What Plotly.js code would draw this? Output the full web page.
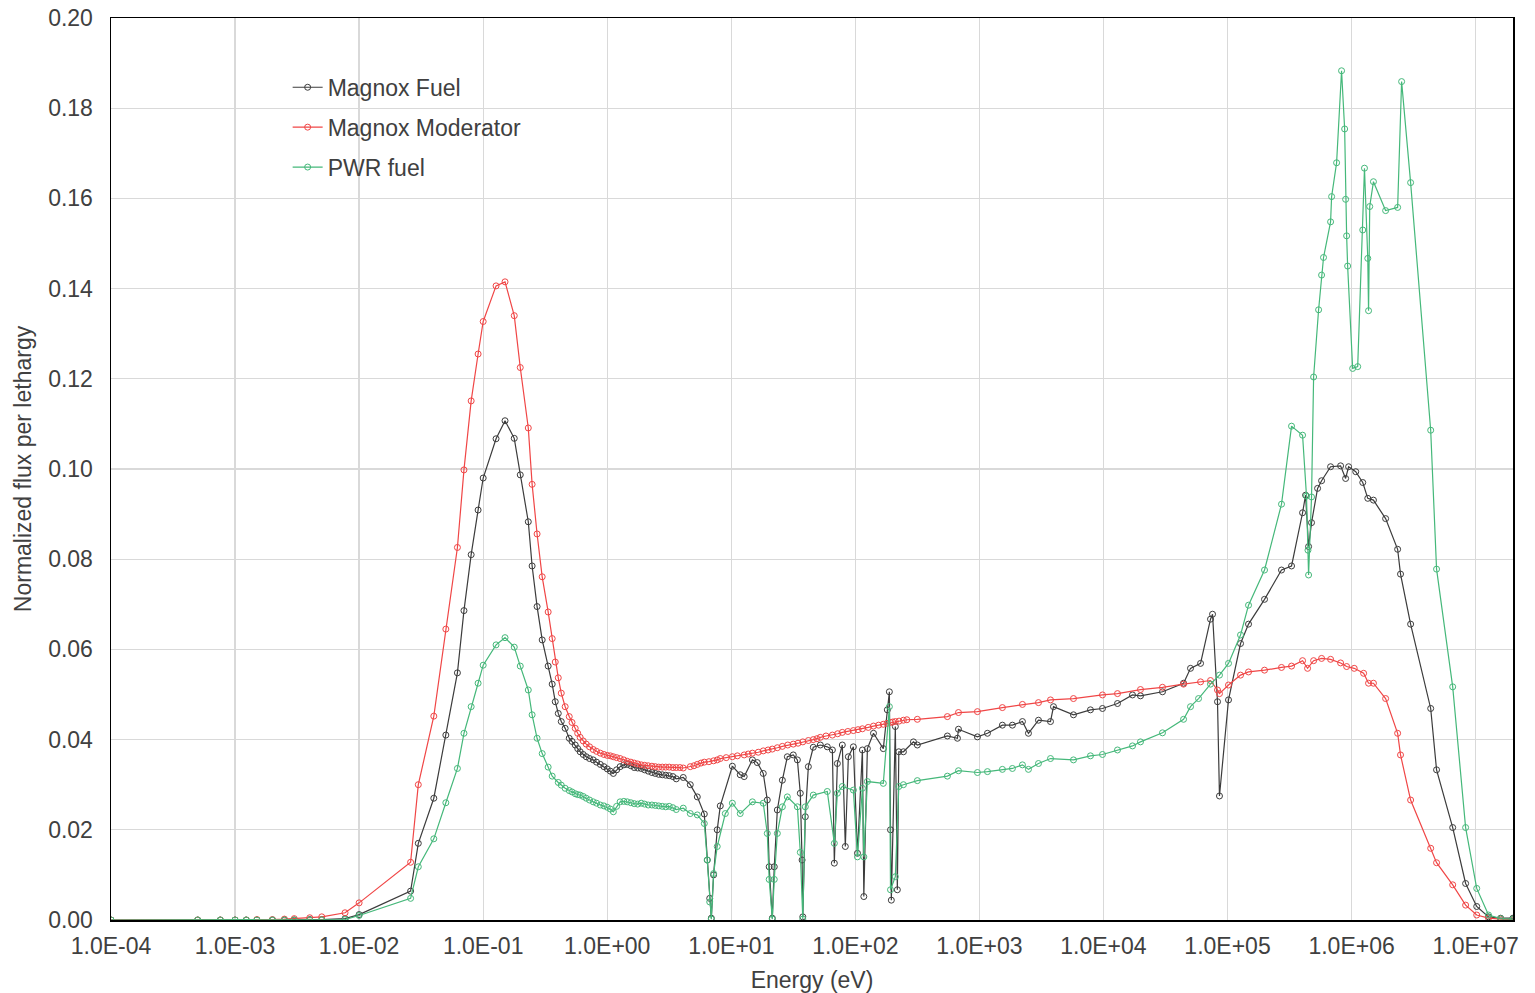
<!DOCTYPE html>
<html>
<head>
<meta charset="utf-8">
<script src="https://cdn.plot.ly/plotly-3.0.1.min.js"></script>
<style>
  body { margin: 0; background: #fff; }
  #plot { width: 1535px; height: 993px; }
</style>
</head>
<body>
<div id="plot"></div>
<script>
// energies (eV) and normalized flux per lethargy
var fuelE = [1e-4, 5.0e-4, 7.6e-4, 1.0e-3, 1.23e-3, 1.5e-3, 2.0e-3, 2.5e-3, 3.0e-3, 4.0e-3, 5.0e-3, 7.7e-3, 1.0e-2,
  2.6e-2, 3.0e-2, 4.0e-2, 5.0e-2, 6.2e-2, 7.0e-2, 8.0e-2, 9.1e-2, 0.1, 0.127, 0.15, 0.178, 0.199, 0.231, 0.248, 0.272,
  0.299, 0.334, 0.36, 0.381, 0.403, 0.426, 0.458, 0.494, 0.52, 0.552, 0.578, 0.605, 0.64, 0.677, 0.72, 0.771, 0.82,
  0.879, 0.94, 1.0, 1.06, 1.12, 1.19, 1.27, 1.36, 1.45, 1.55, 1.65, 1.76, 1.88, 2.0, 2.14, 2.29, 2.44, 2.6, 2.78,
  2.96, 3.16, 3.38, 3.6, 4.1, 4.67, 5.32, 6.06, 6.4, 6.7, 6.9, 7.2, 7.7, 8.15, 10.2, 11.8, 12.7,
  14.8, 16.2, 18.1, 19.5, 20.2, 21.4, 22.2, 23.5, 25.8, 28.3, 31.6, 34.1, 36, 37.2, 37.7, 39.5, 41.8, 45.8, 52.2,
  59.4, 65.3, 67.7, 71.6, 78.5, 83, 87.8, 96.4, 104, 114, 117, 125, 140, 168, 181, 188, 192, 195, 210, 218, 224,
  244, 294, 316, 552, 665, 678, 964, 1161, 1532, 1845, 2222, 2484, 2992, 3740, 3954, 5730, 7850, 9820, 12970,
  17140, 19870, 29900, 44200, 50300, 60600, 72900, 75700, 83000, 86100, 101800, 127300, 147600, 198700, 272300,
  328000, 402500, 425700, 450000, 475400, 531900, 573000, 677000, 815000, 895000, 946000, 1.08e6, 1.23e6,
  1.35e6, 1.5e6, 1.88e6, 2.35e6, 2.48e6, 2.99e6, 4.34e6, 4.84e6, 6.53e6, 8.3e6, 1.02e7, 1.27e7, 1.59e7, 2.0e7];
var fuelF = [0, 0, 0, 0, 0, 0, 0, 0, 0, 0.0001, 0.0001, 0.0003, 0.0012,
  0.0064, 0.017, 0.027, 0.041, 0.0548, 0.0686, 0.081, 0.0909, 0.098, 0.1067, 0.1107, 0.1068, 0.0987, 0.0883, 0.0785, 0.0695,
  0.0621, 0.0563, 0.0523, 0.0484, 0.0458, 0.044, 0.0425, 0.0403, 0.0396, 0.0388, 0.038, 0.0373, 0.0367, 0.0362, 0.0358, 0.0355, 0.035,
  0.0345, 0.034, 0.0335, 0.033, 0.0325, 0.0333, 0.034, 0.0344, 0.0345, 0.0342, 0.0338, 0.0337, 0.0336, 0.0333, 0.033, 0.0327, 0.0325, 0.0323, 0.0322,
  0.0321, 0.032, 0.0318, 0.0313, 0.0316, 0.03, 0.0273, 0.0235, 0.0133, 0.0048, 0.0004, 0.01, 0.02, 0.0253, 0.0341, 0.0322, 0.0318,
  0.0355, 0.0349, 0.0325, 0.0266, 0.0118, 0.0004, 0.0118, 0.0244, 0.031, 0.0362, 0.0366, 0.0355, 0.0281, 0.0133, 0.0007, 0.0229, 0.034, 0.0383, 0.0388,
  0.0384, 0.0377, 0.0126, 0.0347, 0.0388, 0.0163, 0.0362, 0.0384, 0.0148, 0.0377, 0.0052, 0.038, 0.0414, 0.038, 0.0466, 0.0506, 0.02, 0.0044, 0.0429, 0.0067, 0.0373,
  0.0373, 0.0395, 0.0388, 0.0408, 0.0403, 0.0423, 0.0406, 0.0414, 0.0432, 0.0432, 0.044, 0.0414, 0.0443, 0.044, 0.0473, 0.0455, 0.0466, 0.0469, 0.048,
  0.0499, 0.0497, 0.0506, 0.0525, 0.0558, 0.0569, 0.0667, 0.0678, 0.0484, 0.0275, 0.0488, 0.0613, 0.0656, 0.0711, 0.0776,
  0.0785, 0.0903, 0.0942, 0.0828, 0.0881, 0.0957, 0.0974, 0.1005, 0.1007, 0.0979, 0.1005, 0.0994, 0.097,
  0.0935, 0.0931, 0.089, 0.0822, 0.0767, 0.0656, 0.0469, 0.0333, 0.0205, 0.0081, 0.003, 0.0007, 0.0004, 0.0004];

var modE = [1e-4, 5.0e-4, 7.6e-4, 1.0e-3, 1.23e-3, 1.5e-3, 2.0e-3, 2.5e-3, 3.0e-3, 4.0e-3, 5.0e-3, 7.7e-3, 1.0e-2,
  2.6e-2, 3.0e-2, 4.0e-2, 5.0e-2, 6.2e-2, 7.0e-2, 8.0e-2, 9.1e-2, 0.1, 0.127, 0.15, 0.178, 0.199, 0.231, 0.248, 0.272,
  0.299, 0.334, 0.36, 0.381, 0.403, 0.426, 0.458, 0.494, 0.52, 0.552, 0.578, 0.605, 0.64, 0.677, 0.72, 0.771, 0.82,
  0.879, 0.94, 1.0, 1.06, 1.12, 1.19, 1.27, 1.36, 1.45, 1.55, 1.65, 1.76, 1.88, 2.0, 2.14, 2.29, 2.44, 2.6, 2.78,
  2.96, 3.16, 3.38, 3.6, 3.85, 4.1, 4.67, 5.0, 5.32, 5.7, 6.06, 6.6, 7.2, 7.7, 8.15, 9.1, 10.2, 11.2, 12.7, 13.7,
  14.8, 16.5, 18.1, 19.8, 21.4, 23.5, 25.8, 28.5, 31.6, 34.5, 37.7, 41.8, 45.8, 49, 52.2, 58, 65.3, 72, 78.5, 87,
  96.4, 105, 114, 127, 140, 154, 168, 180, 192, 200, 210, 225, 244, 260, 316, 552, 678, 964, 1532, 2222, 2992,
  3740, 5730, 9820, 12970, 19870, 29900, 44200, 60600, 72900, 83000, 86100, 101800, 127300, 147600, 198700,
  272300, 328000, 402500, 441700, 494100, 573000, 677000, 815000, 912000, 1.05e6, 1.25e6, 1.37e6, 1.5e6, 1.88e6,
  2.35e6, 2.48e6, 2.99e6, 4.34e6, 4.84e6, 6.53e6, 8.3e6, 1.02e7, 1.27e7, 1.59e7, 2.0e7];
var modF = [0, 0, 0, 0, 0, 0.0001, 0.0001, 0.0002, 0.0003, 0.0005, 0.0007, 0.0016, 0.0038,
  0.0128, 0.03, 0.0452, 0.0645, 0.0826, 0.0998, 0.1151, 0.1255, 0.1327, 0.1406, 0.1415, 0.134, 0.1225, 0.1091, 0.0966, 0.0856,
  0.0761, 0.0683, 0.0624, 0.0572, 0.0537, 0.0503, 0.0473, 0.0451, 0.0438, 0.0425, 0.0414, 0.0405, 0.0397, 0.039, 0.0384, 0.0378, 0.0374,
  0.037, 0.0367, 0.0365, 0.0364, 0.0362, 0.036, 0.0358, 0.0355, 0.0352, 0.035, 0.0348, 0.0346, 0.0344, 0.0343, 0.0342, 0.0341, 0.034, 0.0339, 0.0339,
  0.0339, 0.0339, 0.0338, 0.0338, 0.0338, 0.0337, 0.034, 0.0342, 0.0345, 0.0348, 0.035, 0.0351, 0.0353, 0.0355, 0.0358, 0.036, 0.0362, 0.0364, 0.0366, 0.0368,
  0.037, 0.0372, 0.0375, 0.0377, 0.0379, 0.0382, 0.0385, 0.0388, 0.039, 0.0392, 0.0395, 0.0398, 0.04, 0.0402, 0.0405, 0.0408, 0.041, 0.0413, 0.0416, 0.0418,
  0.042, 0.0422, 0.0424, 0.0427, 0.043, 0.0432, 0.0434, 0.0436, 0.0438, 0.0439, 0.044, 0.0441, 0.0443, 0.0444, 0.0445, 0.0451, 0.046, 0.0462, 0.0471, 0.0478, 0.0482,
  0.0488, 0.0491, 0.0499, 0.0502, 0.0511, 0.0516, 0.0523, 0.0528, 0.0531, 0.051, 0.0502, 0.0521, 0.0543, 0.055, 0.0554,
  0.056, 0.0563, 0.0575, 0.0558, 0.0575, 0.058, 0.0578, 0.057, 0.0562, 0.0558, 0.0547, 0.0525, 0.0525, 0.0491,
  0.0414, 0.0366, 0.0266, 0.0159, 0.0127, 0.0078, 0.0033, 0.0011, 0.0004, 0.0002, 0.0001];

var pwrE = [1e-4, 5.0e-4, 7.6e-4, 1.0e-3, 1.23e-3, 1.5e-3, 2.0e-3, 2.5e-3, 3.0e-3, 4.0e-3, 5.0e-3, 7.7e-3, 1.0e-2,
  2.6e-2, 3.0e-2, 4.0e-2, 5.0e-2, 6.2e-2, 7.0e-2, 8.0e-2, 9.1e-2, 0.1, 0.127, 0.15, 0.178, 0.199, 0.231, 0.248, 0.272,
  0.299, 0.334, 0.36, 0.403, 0.426, 0.458, 0.494, 0.52, 0.552, 0.578, 0.605, 0.64, 0.677, 0.72, 0.771, 0.82, 0.879,
  0.94, 1.0, 1.06, 1.12, 1.19, 1.27, 1.36, 1.45, 1.55, 1.65, 1.76, 1.88, 2.0, 2.14, 2.29, 2.44, 2.6, 2.78, 2.96,
  3.16, 3.38, 3.6, 4.1, 4.67, 5.32, 6.06, 6.4, 6.7, 6.9, 7.2, 7.7, 8.95, 10.2, 11.8, 14.8, 18.1, 19.5, 20.2,
  21.4, 22.2, 23.5, 25.8, 28.3, 34.1, 36, 37.7, 39.5, 45.8, 59.4, 67.7, 71.6, 78.5, 96.4, 104, 114, 117, 125, 168,
  188, 192, 210, 224, 244, 316, 552, 678, 964, 1161, 1532, 1845, 2222, 2484, 2992, 3740, 5730, 7850, 9820, 12970,
  17140, 19870, 29900, 44200, 50300, 58400, 72900, 86100, 101800, 127300, 147600, 198700, 272300, 328000, 402500,
  433000, 445000, 450000, 475400, 494100, 542000, 573000, 594000, 677000, 690000, 757000, 830000, 879000, 895000,
  912000, 929000, 1.02e6, 1.12e6, 1.23e6, 1.27e6, 1.35e6, 1.37e6, 1.4e6, 1.5e6, 1.88e6, 2.35e6, 2.53e6, 2.99e6,
  4.34e6, 4.84e6, 6.53e6, 8.3e6, 1.02e7, 1.27e7, 1.59e7, 2.0e7];
var pwrF = [0, 0, 0, 0, 0, 0, 0, 0, 0, 0, 0, 0.0001, 0.001,
  0.0048, 0.0118, 0.018, 0.026, 0.0336, 0.0414, 0.0473, 0.0525, 0.0565, 0.061, 0.0626, 0.0605, 0.0563, 0.051, 0.0455, 0.0403,
  0.0369, 0.0339, 0.0319, 0.0305, 0.0299, 0.0292, 0.0287, 0.0284, 0.028, 0.0278, 0.0277, 0.0274, 0.027, 0.0266, 0.0262, 0.0259, 0.0255,
  0.0253, 0.025, 0.0246, 0.024, 0.0252, 0.0262, 0.0263, 0.0262, 0.026, 0.0258, 0.0257, 0.0259, 0.0257, 0.0255, 0.0255, 0.0254, 0.0253, 0.0252, 0.0251,
  0.0252, 0.0249, 0.0245, 0.0248, 0.0236, 0.0233, 0.0214, 0.0133, 0.004, 0.0002, 0.0103, 0.0163, 0.0236, 0.0259, 0.0236, 0.0262, 0.0259, 0.0192, 0.009,
  0.0002, 0.009, 0.0192, 0.0251, 0.0273, 0.0251, 0.015, 0.0002, 0.0251, 0.0277, 0.0285, 0.017, 0.0281, 0.0296, 0.0288, 0.014, 0.0292, 0.014, 0.0307, 0.0303,
  0.0473, 0.0067, 0.0096, 0.0296, 0.03, 0.0309, 0.0319, 0.0331, 0.0327, 0.0329, 0.0334, 0.0336, 0.0344, 0.0334, 0.0347, 0.0358, 0.0355, 0.0364, 0.0367, 0.0377,
  0.0386, 0.0395, 0.0415, 0.0445, 0.0473, 0.0491, 0.0523, 0.0543, 0.0569, 0.0632, 0.0698, 0.0776, 0.0922, 0.1095, 0.1075,
  0.094, 0.082, 0.0765, 0.0938, 0.1204, 0.1353, 0.143, 0.1469, 0.1548, 0.1604, 0.1679, 0.1883, 0.1754, 0.1598,
  0.1517, 0.145, 0.1223, 0.1227, 0.153, 0.1667, 0.1467, 0.1351, 0.1582, 0.1637, 0.1573, 0.158, 0.1859, 0.1635,
  0.1086, 0.0778, 0.0517, 0.0205, 0.007, 0.0011, 0.0003, 0.0002];

var seriesNames = ["Magnox Fuel", "Magnox Moderator", "PWR fuel"];
var seriesColors = ["#3c3c3c", "#f04646", "#45b87a"];
var xTickVals = [1e-4, 1e-3, 1e-2, 1e-1, 1e0, 1e1, 1e2, 1e3, 1e4, 1e5, 1e6, 1e7];
var xTickText = ["1.0E-04", "1.0E-03", "1.0E-02", "1.0E-01", "1.0E+00", "1.0E+01", "1.0E+02",
  "1.0E+03", "1.0E+04", "1.0E+05", "1.0E+06", "1.0E+07"];

function makeTrace(x, y, i){
    return {
        type: "scatter",
        mode: "lines+markers",
        x: x,
        y: y,
        name: seriesNames[i],
        legendgroup: "g" + i,
        line: {color: seriesColors[i], width: 1.2},
        marker: {
            symbol: "circle-open",
            size: 6,
            color: seriesColors[i],
            line: {width: 1, color: seriesColors[i]}
        }
    };
}

var data = [
    makeTrace(fuelE, fuelF, 0),
    makeTrace(modE, modF, 1),
    makeTrace(pwrE, pwrF, 2)
];

var layout = {
    width: 1535,
    height: 993,
    paper_bgcolor: "#fff",
    plot_bgcolor: "#fff",
    font: {family: "Liberation Sans, Arial, sans-serif", color: "#404040"},
    margin: {l: 111, r: 22, t: 18, b: 73},
    showlegend: true,
    legend: {
        x: 0.126,
        y: 0.947,
        xanchor: "left",
        yanchor: "top",
        bgcolor: "rgba(0,0,0,0)",
        font: {size: 23, color: "#404040"},
        traceorder: "grouped",
        tracegroupgap: 7
    },
    xaxis: {
        type: "log",
        range: [-4, 7.301],
        tickvals: xTickVals,
        ticktext: xTickText,
        tickfont: {size: 23, color: "#404040"},
        ticks: "outside",
        ticklen: 5,
        tickcolor: "rgba(0,0,0,0)",
        showgrid: true,
        gridcolor: "#d9d9d9",
        gridwidth: 1.3,
        showline: true,
        linecolor: "#000",
        linewidth: 1.5,
        mirror: true,
        zeroline: false,
        title: {text: "Energy (eV)", font: {size: 23, color: "#404040"}, standoff: 16}
    },
    yaxis: {
        range: [0, 0.2],
        dtick: 0.02,
        tickformat: ".2f",
        tickfont: {size: 23, color: "#404040"},
        ticks: "outside",
        ticklen: 12,
        tickcolor: "rgba(0,0,0,0)",
        showgrid: true,
        gridcolor: "#d9d9d9",
        gridwidth: 1.3,
        showline: true,
        linecolor: "#000",
        linewidth: 1.5,
        mirror: true,
        zeroline: false,
        title: {text: "Normalized flux per lethargy", font: {size: 23, color: "#404040"}, standoff: 10}
    }
};

Plotly.newPlot("plot", data, layout, {displayModeBar: false, staticPlot: true});
</script>
</body>
</html>
